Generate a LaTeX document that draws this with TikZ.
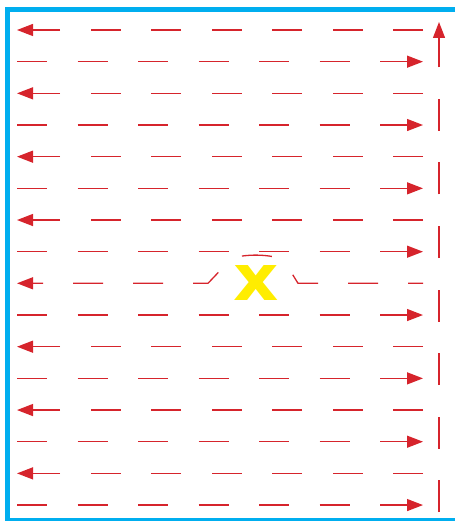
\documentclass[tikz,border=0pt]{standalone}
\usepackage{fontspec}
\newfontfamily\markfont{DejaVu Sans}
\usetikzlibrary{arrows.meta}
\definecolor{scanred}{RGB}{214,36,44}
\definecolor{frameblue}{RGB}{0,174,239}
\definecolor{markyellow}{RGB}{255,237,0}
\begin{document}
\begin{tikzpicture}[
  x=1pt, y=-1pt,
  frame/.style={draw=frameblue, line width=5pt},
  scan/.style={draw=scanred, line width=1.3pt,
    dash pattern=on 30pt off 30.5pt,
    -{Triangle[length=16pt, width=12pt]}},
  targetmark/.style={text=markyellow, inner sep=0pt,
    font={\markfont\bfseries\fontsize{64pt}{64pt}\selectfont}}
]
\useasboundingbox (0,0) rectangle (455,521);
\draw[frame] (455,9.8) -| (7.5,520.5) -- (455,520.5);
% scan lines, right to left
\foreach \i in {0,2,4,6,10,12,14}
  \draw[scan] (423,{30+31.67*\i}) -- (17,{30+31.67*\i});
% scan lines, left to right
\foreach \i in {1,3,...,15}
  \draw[scan] (17,{30+31.67*\i}) -- (423,{30+31.67*\i});
% return line
\draw[scan, dash pattern=on 32pt off 31.5pt] (439,512) -- (439,22);
% the mark and the line going round it
\node[targetmark] (target) at (256.5,282.5) {\scalebox{1.1}[1]{x}};
\draw[scan, dash pattern=on 30pt off 30pt, dash phase=15pt]
  (423,283.3) -- (298,283.3) -- (283,259)
  .. controls (266,254) and (248,254) .. (232,258)
  -- (208,283.3) -- (17,283.3);
\end{tikzpicture}
\end{document}
